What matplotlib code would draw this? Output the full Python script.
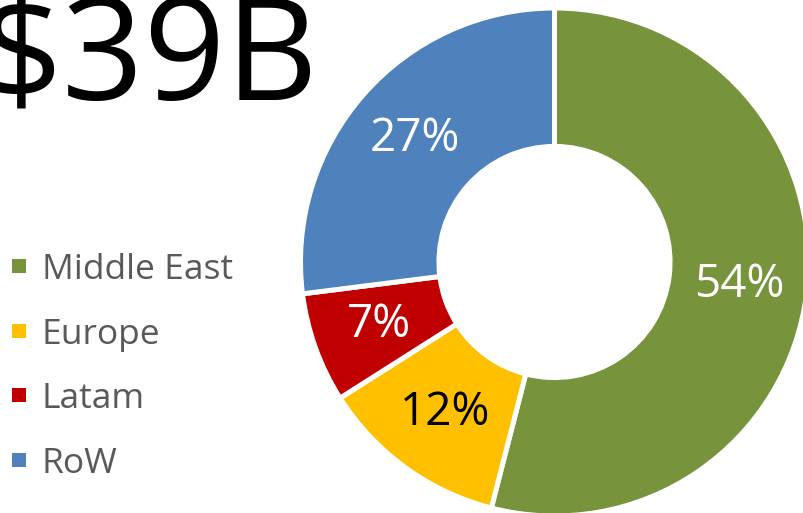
import matplotlib
matplotlib.use("Agg")
import matplotlib.pyplot as plt
from matplotlib.patches import Rectangle

categories = ["Middle East", "Europe", "Latam", "RoW"]
shares = [54, 12, 7, 27]
colors = ["#77933C", "#FFC000", "#C00000", "#4F81BD"]
label_colors = ["white", "black", "white", "white"]
title_text = "$39B"

W, H = 804, 513
fig = plt.figure(figsize=(W / 100, H / 100), dpi=100)
FONT = "Open Sans"

# donut axes (pixel geometry)
cx, cy_top, R = 554.5, 262, 254
cy = H - cy_top
ax = fig.add_axes([(cx - R) / W, (cy - R) / H, 2 * R / W, 2 * R / H])
wedges, texts, autotexts = ax.pie(
    shares, colors=colors, startangle=90, counterclock=False, radius=1,
    autopct=lambda p: f"{p:.0f}%", pctdistance=0.735,
    wedgeprops=dict(width=0.545, edgecolor="white", linewidth=3.6),
    textprops=dict(fontsize=33, family=FONT))
for t, c in zip(autotexts, label_colors):
    t.set_color(c)
ax.set_xlim(-1, 1)
ax.set_ylim(-1, 1)
ax.set_aspect("equal")
ax.axis("off")

# title
fig.text(318 / W, 1 - 100 / H, title_text, ha="right", va="baseline",
         fontsize=103, family=FONT, color="black")

# legend
row_y = [266, 331, 395, 460]
for name, col, y in zip(categories, colors, row_y):
    fig.patches.append(Rectangle((12 / W, 1 - (y + 7) / H), 14 / W, 14 / H,
                                 transform=fig.transFigure, facecolor=col,
                                 edgecolor="none"))
    fig.text(42 / W, 1 - y / H, name, ha="left", va="center_baseline",
             fontsize=25.5, family=FONT, color="#595959")

fig.savefig("out.png", dpi=100)
